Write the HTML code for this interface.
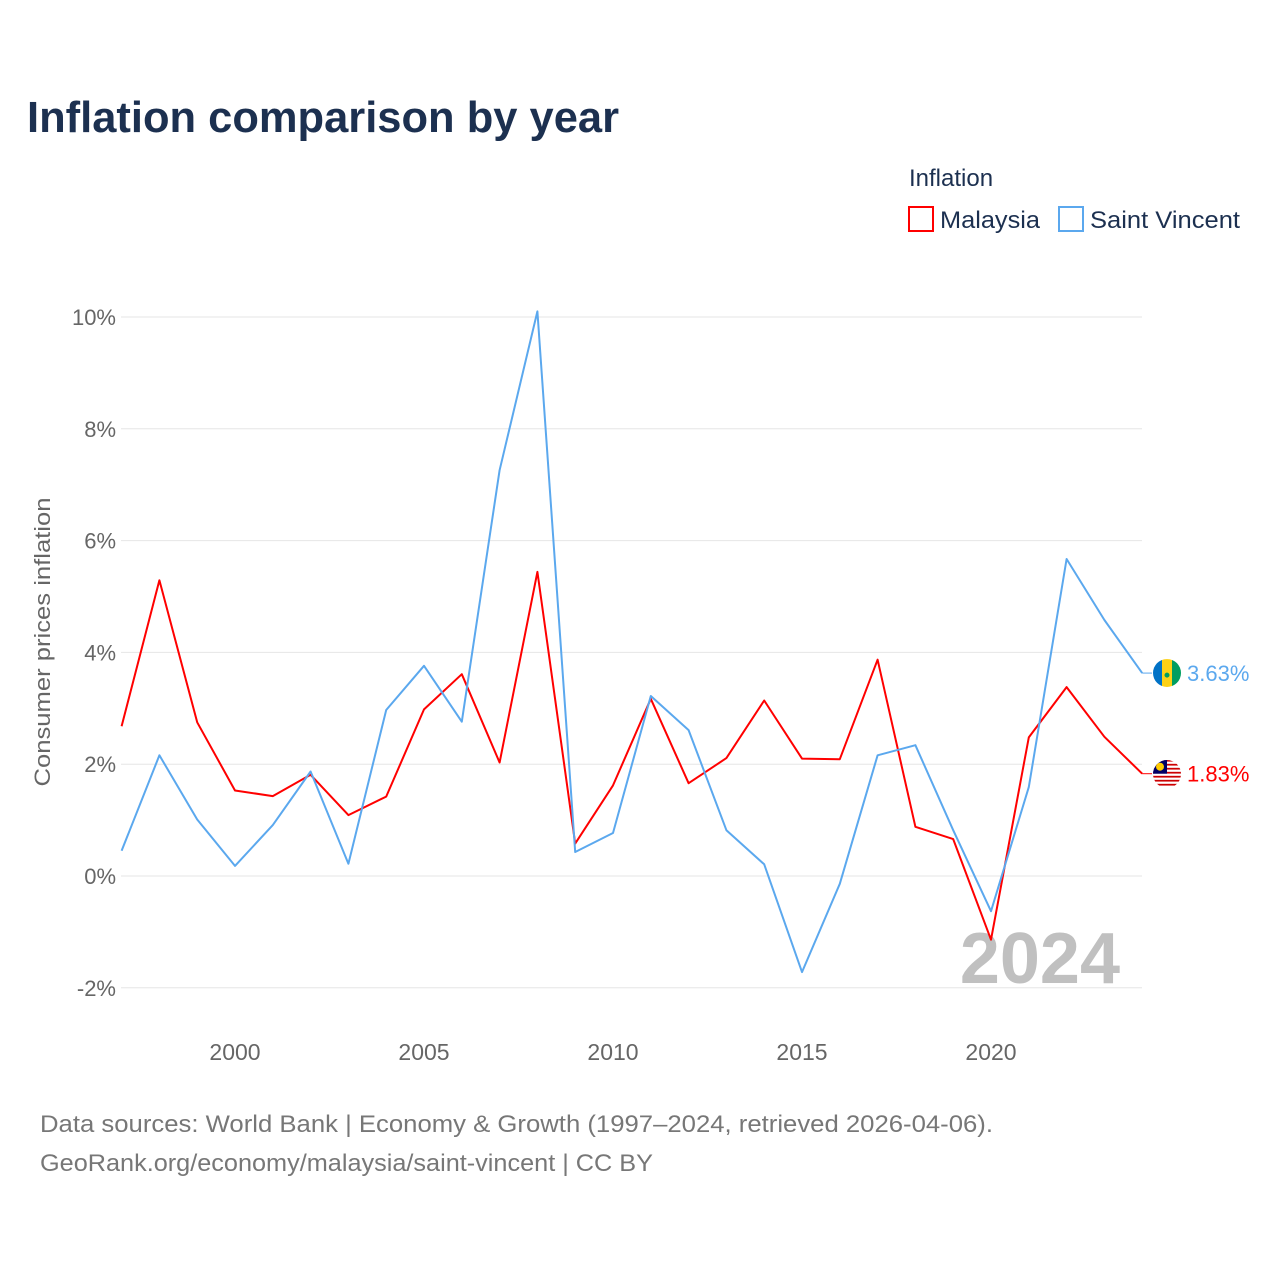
<!DOCTYPE html>
<html><head><meta charset="utf-8">
<style>
body{margin:0;background:#fff;font-family:"Liberation Sans",sans-serif;}
svg{display:block}
</style></head>
<body>
<svg id="chart" width="1280" height="1280">
<defs>
<clipPath id="c1"><circle cx="1167" cy="673" r="14"/></clipPath>
<clipPath id="c2"><circle cx="1167" cy="774" r="14"/></clipPath>
</defs>
<text x="27" y="132" font-size="44" font-weight="bold" fill="#1c3050" textLength="592" lengthAdjust="spacingAndGlyphs">Inflation comparison by year</text>
<text x="909" y="186" font-size="24" fill="#1c3050">Inflation</text>
<g><rect x="909" y="207" width="24" height="24" fill="none" stroke="#f00" stroke-width="2"/><text x="940" y="228" font-size="24" fill="#1c3050" textLength="100" lengthAdjust="spacingAndGlyphs">Malaysia</text></g>
<g><rect x="1059" y="207" width="24" height="24" fill="none" stroke="#5ba8ee" stroke-width="2"/><text x="1090" y="228" font-size="24" fill="#1c3050" textLength="150" lengthAdjust="spacingAndGlyphs">Saint Vincent</text></g>
<text transform="translate(50,642) rotate(-90)" text-anchor="middle" font-size="22" fill="#666" textLength="289" lengthAdjust="spacingAndGlyphs">Consumer prices inflation</text>
<g id="grid"></g><g id="xt"></g>
<text x="1120" y="983" text-anchor="end" font-size="72" font-weight="bold" fill="#c0c0c0">2024</text>
<g id="lines"></g>
<text x="40" y="1132" font-size="24" fill="#777" textLength="953" lengthAdjust="spacingAndGlyphs">Data sources: World Bank | Economy &amp; Growth (1997–2024, retrieved 2026-04-06).</text>
<text x="40" y="1171" font-size="24" fill="#777" textLength="613" lengthAdjust="spacingAndGlyphs">GeoRank.org/economy/malaysia/saint-vincent | CC BY</text>
</svg>
<script>
const years=[1997,1998,1999,2000,2001,2002,2003,2004,2005,2006,2007,2008,2009,2010,2011,2012,2013,2014,2015,2016,2017,2018,2019,2020,2021,2022,2023,2024];
const malaysia=[2.68,5.29,2.75,1.53,1.43,1.81,1.09,1.42,2.98,3.61,2.03,5.44,0.58,1.62,3.17,1.66,2.11,3.14,2.10,2.09,3.87,0.88,0.66,-1.14,2.48,3.38,2.49,1.83];
const saintVincent=[0.45,2.16,1.01,0.18,0.91,1.87,0.22,2.97,3.76,2.76,7.26,10.1,0.43,0.77,3.22,2.61,0.82,0.21,-1.72,-0.14,2.16,2.34,0.82,-0.63,1.59,5.67,4.58,3.63];
const yTicks=[-2,0,2,4,6,8,10];
const xTicks=[2000,2005,2010,2015,2020];
const NS="http://www.w3.org/2000/svg";
const x=v=>121.6+(v-1997)*37.8;
const y=v=>876-v*55.9;
function mk(t,a,p){const e=document.createElementNS(NS,t);for(const k in a)e.setAttribute(k,a[k]);p.appendChild(e);return e;}
const grid=document.getElementById('grid');
yTicks.forEach(t=>{
  const l=mk('line',{x1:121,x2:1142,y1:y(t),y2:y(t),stroke:'#e6e6e6','stroke-width':1},grid);
  
  
  const tx=mk('text',{x:116,y:y(t)+8,'text-anchor':'end','font-size':22,fill:'#666'},grid);
  tx.textContent=t+'%';
  
  
});
const xt=document.getElementById('xt');
xTicks.forEach(t=>{
  const tx=mk('text',{x:x(t),y:1060,'text-anchor':'middle','font-size':23,fill:'#666'},xt);
  tx.textContent=t;
  
  
});
const lines=document.getElementById('lines');
function series(vals,col,name,isMy){
  const d=vals.map((v,i)=>(i?'L':'M')+x(years[i]).toFixed(1)+','+y(v).toFixed(1)).join('');
  const p=mk('path',{d:d,fill:'none',stroke:col,'stroke-width':2,'stroke-linejoin':'round'},lines);
  
  
  const last=vals[vals.length-1],ly=y(last);
  mk('line',{x1:x(2024),x2:1152,y1:ly,y2:ly,stroke:col,'stroke-width':1},lines);
  const g=mk('g',{},lines);
  
  
  if(isMy){
    const cg=mk('g',{'clip-path':'url(#c2)'},g);
    for(let i=0;i<7;i++) mk('rect',{x:1153,y:ly-14+i*4,width:28,height:2,fill:'#cc0001'},cg);
    for(let i=0;i<7;i++) mk('rect',{x:1153,y:ly-12+i*4,width:28,height:2,fill:'#fff'},cg);
    mk('rect',{x:1153,y:ly-14,width:14,height:14,fill:'#010066'},cg);
    mk('circle',{cx:1160,cy:ly-7,r:4,fill:'#fc0'},cg);
  } else {
    const cg=mk('g',{'clip-path':'url(#c1)'},g);
    mk('rect',{x:1153,y:ly-14,width:9,height:28,fill:'#0072c6'},cg);
    mk('rect',{x:1162,y:ly-14,width:10,height:28,fill:'#fcd116'},cg);
    mk('rect',{x:1172,y:ly-14,width:9,height:28,fill:'#009e60'},cg);
    mk('circle',{cx:1167,cy:ly+2,r:2.5,fill:'#009e60'},cg);
  }
  const t=mk('text',{x:1187,y:ly+8,'font-size':22,fill:col},lines);
  t.textContent=last.toFixed(2)+'%';
  
  
}
series(malaysia,'#f00','malaysia',true);
series(saintVincent,'#5ba8ee','saint-vincent',false);
</script>
</body></html>
